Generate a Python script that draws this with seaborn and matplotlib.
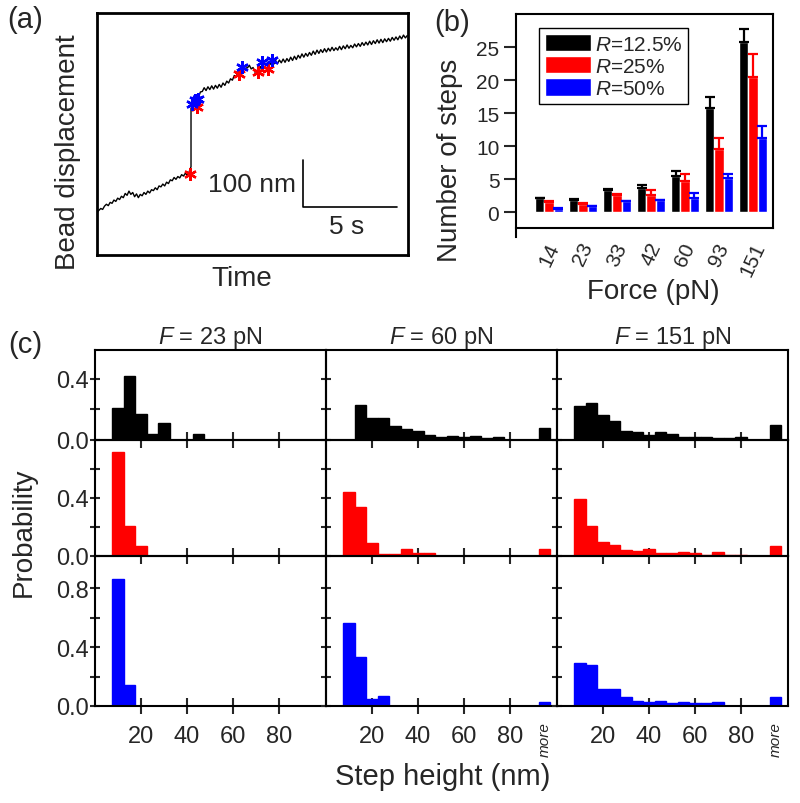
import numpy as np
import pandas as pd
import matplotlib
matplotlib.use("Agg")
import matplotlib.pyplot as plt
import matplotlib.transforms as mtransforms
import seaborn as sns

sns.set_style("ticks")
plt.rcParams["font.family"] = ["Liberation Sans", "DejaVu Sans"]
plt.rcParams["mathtext.fontset"] = "custom"
plt.rcParams["mathtext.rm"] = "Liberation Sans"
plt.rcParams["mathtext.it"] = "Liberation Sans:italic"
plt.rcParams["axes.edgecolor"] = "black"
plt.rcParams["axes.linewidth"] = 1.5

BLACK, RED, BLUE = "#000000", "#ff0000", "#0000ff"

# ---- (a) bead trace, nm, sampled every 0.1 s ----
sample_step_s = 0.1
trace_before = [90, 95, 99, 97, 104, 108, 105, 112, 110, 117, 114, 121, 118,
                125, 122, 131, 127, 136, 129, 133, 124, 130, 122, 129, 126,
                133, 129, 136, 132, 139, 137, 143, 139, 147, 145, 151, 147,
                155, 152, 160, 158, 165, 161, 167, 164, 171, 168, 174, 170,
                177, 188]
trace_after = [312, 321, 325, 334, 336, 347, 348, 356, 350, 358, 352, 360, 353,
               361, 355, 363, 357, 366, 361, 370, 366, 375, 372, 382, 379, 390,
               388, 400, 395, 403, 398, 404, 396, 399, 389, 393, 388, 401, 397,
               409, 404, 411, 405, 413, 406, 414, 407, 415, 409, 417, 410, 418,
               412, 421, 414, 423, 416, 425, 419, 428, 421, 429, 423, 431, 425,
               434, 427, 436, 429, 437, 431, 439, 432, 440, 434, 442, 435, 441,
               436, 444, 437, 445, 439, 447, 440, 446, 441, 449, 443, 450, 444,
               452, 446, 453, 447, 455, 448, 456, 450, 458, 451, 459, 452, 460,
               454, 461, 455, 463, 457, 464, 458, 466, 460, 468, 462, 467]
jump_time_s = 5.0
red_t = [4.95, 5.30, 7.55, 8.58, 9.11]
red_d = [172, 316, 385, 389, 396]
blue_t = [5.05, 5.20, 5.38, 7.70, 8.76, 9.29]
blue_d = [322, 330, 333, 401, 411, 416]

# ---- (b) number of steps vs force ----
forces = ["14", "23", "33", "42", "60", "93", "151"]
ratios = ["$R$=12.5%", "$R$=25%", "$R$=50%"]
steps_r125 = [2.1, 1.9, 3.4, 3.6, 5.5, 15.7, 25.8]
steps_r25 = [1.6, 1.3, 2.6, 2.6, 4.7, 9.5, 20.4]
steps_r50 = [0.55, 0.95, 1.65, 1.8, 2.2, 5.1, 11.2]
err_r125 = [0.1, 0.1, 0.15, 0.5, 0.75, 1.8, 2.0]
err_r25 = [0.1, 0.1, 0.1, 0.7, 1.15, 1.8, 3.5]
err_r50 = [0.05, 0.05, 0.1, 0.1, 0.7, 0.75, 1.9]

# ---- (c) step height histograms (bins 10..90 nm, last = "more") ----
bin_centers = [10, 15, 20, 25, 30, 35, 40, 45, 50, 55, 60, 65, 70, 75, 80, 85, 90, 95]
col_forces = ["23", "60", "151"]
p23_black = [0.21, 0.42, 0.17, 0.04, 0.11, 0, 0, 0.04, 0, 0, 0, 0, 0, 0, 0, 0, 0, 0]
p23_red = [0.72, 0.21, 0.07, 0, 0, 0, 0, 0, 0, 0, 0, 0, 0, 0, 0, 0, 0, 0]
p23_blue = [0.86, 0.14, 0, 0, 0, 0, 0, 0, 0, 0, 0, 0, 0, 0, 0, 0, 0, 0]
p60_black = [0, 0.23, 0.145, 0.145, 0.095, 0.073, 0.058, 0.035, 0.018, 0.029,
             0.018, 0.029, 0.013, 0.02, 0, 0, 0, 0.078]
p60_red = [0.44, 0.34, 0.09, 0.015, 0.015, 0.05, 0.02, 0.02, 0, 0, 0, 0, 0, 0,
           0, 0, 0, 0.05]
p60_blue = [0.56, 0.33, 0.05, 0.07, 0, 0, 0, 0, 0, 0, 0, 0, 0, 0, 0, 0, 0, 0.03]
p151_black = [0.22, 0.24, 0.167, 0.125, 0.06, 0.051, 0.033, 0.055, 0.04, 0.022,
              0.018, 0.018, 0.015, 0.015, 0.018, 0, 0, 0.1]
p151_red = [0.39, 0.204, 0.10, 0.079, 0.042, 0.037, 0.049, 0.021, 0.019, 0.026,
            0.019, 0.009, 0.026, 0.005, 0.009, 0, 0, 0.067]
p151_blue = [0.29, 0.28, 0.117, 0.117, 0.06, 0.037, 0.03, 0.037, 0.02, 0.03,
             0.018, 0.02, 0.025, 0, 0, 0, 0, 0.064]

W, H = 800, 804
fig = plt.figure(figsize=(W / 100, H / 100), dpi=100)


def rect(x0, y0, x1, y1):
    return [x0 / W, 1 - y1 / H, (x1 - x0) / W, (y1 - y0) / H]


def ftext(x, y, s, **kw):
    fig.text(x / W, 1 - y / H, s, ha="center", va="center", **kw)


# ================= (a) =================
axa = fig.add_axes(rect(97, 14, 408, 256))
t_before = np.arange(len(trace_before)) * sample_step_s
t_after = jump_time_s + np.arange(len(trace_after)) * sample_step_s
trace = pd.DataFrame({"t": np.concatenate([t_before, t_after]),
                      "d": trace_before + trace_after})
sns.lineplot(data=trace, x="t", y="d", estimator=None, sort=False,
             color="black", lw=1.0, ax=axa)
axa.plot(red_t, red_d, ls="none", marker=(6, 2, 0), ms=9, mew=1.7, color=RED)
axa.plot(blue_t, blue_d, ls="none", marker=(6, 2, 0), ms=9, mew=1.7, color=BLUE)
# scale bar: 100 nm x 5 s
axa.plot([10.96, 10.96, 15.96], [202, 102, 102], color="black", lw=1.2)
axa.text(10.6, 152, "100 nm", ha="right", va="center", fontsize=19)
axa.text(13.3, 62, "5 s", ha="center", va="center", fontsize=19)
axa.set_xlim(0, 16.54)
axa.set_ylim(0, 515)
axa.set_xticks([])
axa.set_yticks([])
axa.set_xlabel("")
axa.set_ylabel("")
for s in axa.spines.values():
    s.set_linewidth(2)

ftext(25, 20, "(a)", fontsize=21)
ftext(68, 152, "Bead displacement", fontsize=20, rotation=90)
ftext(242, 279, "Time", fontsize=20)

# ================= (b) =================
axb = fig.add_axes(rect(516, 15, 773, 229))
df = pd.DataFrame({
    "force": forces * 3,
    "steps": steps_r125 + steps_r25 + steps_r50,
    "R": [ratios[0]] * 7 + [ratios[1]] * 7 + [ratios[2]] * 7,
})
sns.barplot(data=df, x="force", y="steps", hue="R", order=forces,
            hue_order=ratios, palette=[BLACK, RED, BLUE], saturation=1,
            width=0.82, errorbar=None, ax=axb)
for cont, err, col in zip(axb.containers, [err_r125, err_r25, err_r50],
                          [BLACK, RED, BLUE]):
    xs = [b.get_x() + b.get_width() / 2 for b in cont]
    hs = [b.get_height() for b in cont]
    axb.errorbar(xs, hs, yerr=[np.zeros(len(err)), err], fmt="none",
                 ecolor=col, elinewidth=1.6, capsize=3.3, capthick=1.6)
axb.set_xlim(-0.97, 6.59)
axb.set_ylim(-2.4, 30)
axb.set_yticks([0, 5, 10, 15, 20, 25])
axb.tick_params(axis="y", direction="out", length=9, width=1.5,
                labelsize=15, pad=3)
axb.tick_params(axis="x", length=0, labelsize=15, pad=8)
for lab in axb.get_xticklabels():
    lab.set_rotation(65)
    lab.set_ha("center")
    lab.set_va("top")
axb.spines["left"].set_bounds(-3.8, 30)
axb.set_xlabel("")
axb.set_ylabel("")
leg = axb.legend(loc="upper left", bbox_to_anchor=(0.0895, 0.935),
                 borderaxespad=0, fontsize=15, handlelength=2.2,
                 handleheight=0.9, handletextpad=0.2, labelspacing=0.12,
                 borderpad=0.28, fancybox=False, framealpha=1)
leg.get_frame().set_edgecolor("black")
leg.get_frame().set_linewidth(1.0)

ftext(452, 23, "(b)", fontsize=21)
ftext(450, 160, "Number of steps", fontsize=20, rotation=90)
ftext(653, 292, "Force (pN)", fontsize=20)

# ================= (c) =================
gs = fig.add_gridspec(3, 3, left=95 / W, right=788 / W, top=1 - 351 / H,
                      bottom=1 - 707 / H, height_ratios=[90, 116, 150],
                      hspace=0, wspace=0)
hists = [[p23_black, p60_black, p151_black],
         [p23_red, p60_red, p151_red],
         [p23_blue, p60_blue, p151_blue]]
row_colors = [BLACK, RED, BLUE]
row_ylim = [0.59, 0.8, 1.017]
row_major = [[0, 0.4], [0, 0.4], [0, 0.4, 0.8]]
row_minor = [[0.2], [0.2, 0.6], [0.2, 0.6]]

for r in range(3):
    for c in range(3):
        ax = fig.add_subplot(gs[r, c])
        ax.set_facecolor("none")
        hdf = pd.DataFrame({"height": bin_centers, "prob": hists[r][c]})
        sns.histplot(data=hdf, x="height", weights="prob", binwidth=5,
                     binrange=(7.5, 97.5), color=row_colors[r], alpha=1,
                     linewidth=1.0, edgecolor=row_colors[r], ax=ax)
        ax.set_xlim(0, 100.4)
        ax.set_ylim(0, row_ylim[r])
        ax.set_xticks([20, 40, 60, 80])
        ax.set_yticks(row_major[r])
        ax.set_yticks(row_minor[r], minor=True)
        ax.set_yticklabels([f"{v:.1f}" for v in row_major[r]])
        ax.tick_params(axis="x", direction="inout", length=12, width=1.5,
                       labelsize=17, pad=8, labelbottom=(r == 2))
        ax.tick_params(axis="y", which="both", direction="inout", length=7,
                       width=1.5, labelsize=17, pad=1, labelleft=(c == 0))
        ax.set_xlabel("")
        ax.set_ylabel("")
        if r == 0:
            ax.set_title(f"$F$ = {col_forces[c]} pN", fontsize=17, pad=5)
        if r == 2 and c > 0:
            tr = mtransforms.blended_transform_factory(ax.transData, ax.transAxes)
            ax.text(95, -0.22, "more", transform=tr, rotation=90,
                    fontsize=11, style="italic", ha="center", va="center")

ftext(25, 345, "(c)", fontsize=21)
ftext(24, 532, "Probability", fontsize=20, rotation=90)
ftext(443, 777, "Step height (nm)", fontsize=21)

fig.savefig("out.png", dpi=100)
